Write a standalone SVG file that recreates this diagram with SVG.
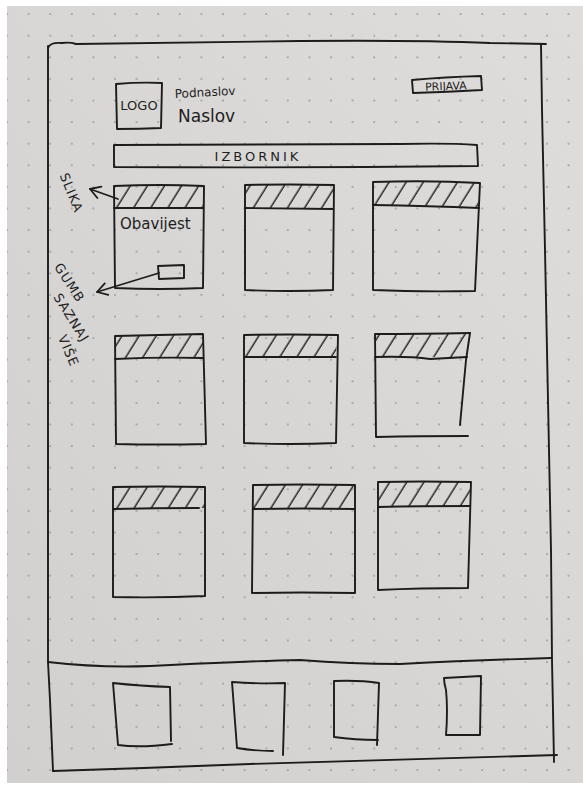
<svg xmlns="http://www.w3.org/2000/svg" width="583" height="785" viewBox="0 0 583 785">
<defs>
<linearGradient id="paper" x1="1" y1="0" x2="0" y2="1">
<stop offset="0" stop-color="#dfdddb"/>
<stop offset="1" stop-color="#d2d0ce"/>
</linearGradient>
<pattern id="dots" width="21.6" height="21.6" patternUnits="userSpaceOnUse" x="6" y="13">
<circle cx="1" cy="1" r="0.85" fill="#8a8886"/>
</pattern>
<pattern id="hatch" width="14.5" height="40" patternUnits="userSpaceOnUse" patternTransform="rotate(32)">
<line x1="6" y1="0" x2="6" y2="40" stroke="#1c1c1c" stroke-width="1.4"/>
</pattern>
<marker id="arrow" viewBox="-12 -8 14 16" refX="0" refY="0" markerWidth="14" markerHeight="16" markerUnits="userSpaceOnUse" orient="auto">
<path d="M-10,-6 L0,0 L-10,6" fill="none" stroke="#1c1c1c" stroke-width="1.8" stroke-linecap="round" stroke-linejoin="round"/>
</marker>
</defs>
<style>
.ln{fill:none;stroke:#1c1c1c;stroke-width:1.9;stroke-linecap:round;stroke-linejoin:round}
.hb{fill:url(#hatch);stroke:none}
.tx{font-family:"DejaVu Sans","Liberation Sans",sans-serif;fill:#1e1e1e}
.cn{fill:none;stroke:#1c1c1c;stroke-width:1.8;stroke-linecap:round}
</style>
<rect x="0" y="0" width="583" height="785" fill="#ffffff"/>
<rect x="7" y="6" width="576" height="777" fill="url(#paper)"/>
<rect x="7" y="6" width="576" height="777" fill="url(#dots)"/>

<g id="frame">
<path class="ln" d="M48,48 Q50,42 62,43 Q70,42 76,44 Q200,42 300,41 Q420,40 490,43 L546,44"/>
<path class="ln" d="M541,44 L542,110 L545,250 L548,400 L551,550 L552,660 L554,762"/>
<path class="ln" d="M48,46 L48,400 L48,662 L50,700 L53,771"/>
</g>

<g id="logo">
<path class="ln" d="M116,84 Q140,82 162,83 L161,128 Q140,129 117,129 Z"/>
<text class="tx" x="139" y="110" font-size="13" text-anchor="middle">LOGO</text>
</g>

<g id="titles">
<text class="tx" x="175" y="98" font-size="12" transform="rotate(-3 175 98)">Podnaslov</text>
<text class="tx" x="178" y="122" font-size="17">Naslov</text>
</g>

<g id="prijava">
<path class="ln" d="M412,80 Q445,77 481,76 L482,90 Q448,92 413,93 Z"/>
<text class="tx" x="446" y="90" font-size="11" text-anchor="middle" transform="rotate(-2 446 90)">PRIJAVA</text>
</g>

<g id="izbornik">
<path class="ln" d="M114,145 Q250,144 400,144 Q450,143 477,145 L478,166 Q300,168 114,167 Z"/>
<text class="tx" x="258" y="161" font-size="13" text-anchor="middle" letter-spacing="3">IZBORNIK</text>
</g>

<g id="card1">
<path class="hb" d="M114,186 L203,186 L203,208 L114,208 Z"/>
<path class="ln" d="M114,186 Q160,184 204,186 L203,288 Q160,290 115,288 Z"/>
<path class="ln" d="M114,208 L203,208"/>
<text class="tx" x="120" y="229" font-size="15">Obavijest</text>
<path class="ln" d="M158,266 L184,265 L184,278 L159,279 Z"/>
</g>

<g id="card2">
<path class="hb" d="M245,185 L333,185 L333,208 L245,208 Z"/>
<path class="ln" d="M245,185 Q290,184 334,185 L333,290 Q290,292 245,290 Z"/>
<path class="ln" d="M245,208 L333,209"/>
</g>

<g id="card3">
<path class="hb" d="M373,182 Q430,180 480,183 L479,207 L373,205 Z"/>
<path class="ln" d="M373,182 Q430,180 480,183 L475,291 Q420,292 373,290 Z"/>
<path class="ln" d="M373,205 Q430,206 479,208"/>
</g>

<g id="card4">
<path class="hb" d="M115,336 L203,334 L204,358 L115,359 Z"/>
<path class="ln" d="M115,336 Q160,335 203,334 L206,444 Q160,445 116,444 Z"/>
<path class="ln" d="M115,359 Q160,357 203,358"/>
</g>

<g id="card5">
<path class="hb" d="M244,335 L337,335 L336,357 L244,357 Z"/>
<path class="ln" d="M244,335 Q290,334 338,335 L336,443 Q290,445 244,443 Z"/>
<path class="ln" d="M244,357 L336,357"/>
</g>

<g id="card6">
<path class="hb" d="M375,334 L470,333 L467,357 L375,357 Z"/>
<path class="ln" d="M470,333 Q420,334 375,334 L376,437 Q420,436 468,436"/>
<path class="ln" d="M470,333 L466,360 L460,425"/>
<path class="ln" d="M375,357 Q410,356 430,359 Q450,358 467,357"/>
</g>

<g id="card7">
<path class="hb" d="M113,487 L205,487 L205,508 L113,509 Z"/>
<path class="ln" d="M113,487 Q160,486 205,487 L205,596 Q160,598 113,597 Z"/>
<path class="ln" d="M113,509 Q155,508 199,508"/>
</g>

<g id="card8">
<path class="hb" d="M253,485 Q300,484 355,485 L355,509 L253,509 Z"/>
<path class="ln" d="M253,485 Q300,484 355,485 L355,593 Q300,592 252,593 Z"/>
<path class="ln" d="M253,509 Q300,508 355,509"/>
</g>

<g id="card9">
<path class="hb" d="M378,482 Q420,481 471,482 L470,506 L378,507 Z"/>
<path class="ln" d="M378,482 Q420,481 471,482 L468,588 Q420,588 378,590 Z"/>
<path class="ln" d="M378,507 Q420,506 470,506"/>
</g>

<g id="footer">
<path class="ln" d="M48,662 Q100,668 150,666 Q250,661 300,660 Q350,664 400,664 Q480,660 551,658"/>
<path class="ln" d="M53,771 Q150,768 250,764 Q400,760 557,755"/>
</g>

<g id="footer-item1">
<path class="ln" d="M113,683 Q140,686 170,687 L171,741 M113,683 L118,745 Q140,748 172,744"/>
</g>
<g id="footer-item2">
<path class="ln" d="M232,682 Q260,684 285,683 L283,755 M232,682 L237,748 Q255,751 273,751"/>
</g>
<g id="footer-item3">
<path class="ln" d="M334,681 Q360,680 379,683 L377,745 M334,681 L334,737 Q355,740 378,740"/>
</g>
<g id="footer-item4">
<path class="ln" d="M444,678 Q462,677 481,676 L480,735 L446,735 Q448,710 446,690 Q444,683 444,678"/>
</g>

<g id="label-slika">
<text class="tx" font-size="13" text-anchor="middle" letter-spacing="1" transform="translate(71,193) rotate(68)" y="4">SLIKA</text>
</g>
<g id="label-gumb">
<text class="tx" font-size="13" text-anchor="middle" letter-spacing="1" transform="translate(69,283) rotate(57)" y="4">GUMB</text>
<text class="tx" font-size="13" text-anchor="middle" letter-spacing="1" transform="translate(71,318) rotate(58)" y="4">SAZNAJ</text>
<text class="tx" font-size="13" text-anchor="middle" letter-spacing="1" transform="translate(68,351) rotate(67)" y="4">VIŠE</text>
</g>

<g id="connectors">
<path class="cn" d="M118,199 L90,189" marker-end="url(#arrow)"/>
<path class="cn" d="M159,273 L97,292" marker-end="url(#arrow)"/>
</g>
</svg>
